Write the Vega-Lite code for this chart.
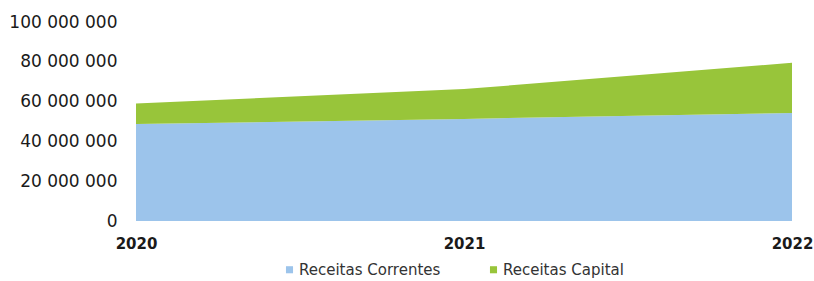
{
  "$schema": "https://vega.github.io/schema/vega-lite/v6.json",
  "width": 656,
  "height": 199,
  "autosize": {"type": "none"},
  "padding": {"left": 136, "top": 22, "right": 22, "bottom": 60},
  "background": "white",
  "config": {
    "view": {"stroke": null},
    "locale": {"number": {"decimal": ",", "thousands": " ", "grouping": [3], "currency": ["", " €"]}},
    "font": "DejaVu Sans"
  },
  "data": {
    "values": [
      {"ano": "2020", "serie": "Receitas Correntes", "ordem": 1, "valor": 48700000},
      {"ano": "2021", "serie": "Receitas Correntes", "ordem": 1, "valor": 51300000},
      {"ano": "2022", "serie": "Receitas Correntes", "ordem": 1, "valor": 54300000},
      {"ano": "2020", "serie": "Receitas Capital", "ordem": 2, "valor": 10300000},
      {"ano": "2021", "serie": "Receitas Capital", "ordem": 2, "valor": 15000000},
      {"ano": "2022", "serie": "Receitas Capital", "ordem": 2, "valor": 25200000}
    ]
  },
  "mark": {"type": "area", "opacity": 1},
  "encoding": {
    "x": {
      "field": "ano",
      "type": "ordinal",
      "scale": {"type": "point", "padding": 0},
      "axis": {
        "title": null,
        "grid": false,
        "domain": false,
        "ticks": false,
        "labelAngle": 0,
        "labelFont": "DejaVu Sans",
        "labelFontSize": 15,
        "labelFontWeight": "bold",
        "labelColor": "#1a1a1a",
        "labelPadding": 15,
        "labelOverlap": false
      }
    },
    "y": {
      "field": "valor",
      "type": "quantitative",
      "stack": "zero",
      "scale": {"domain": [0, 100000000], "nice": false},
      "axis": {
        "values": [0, 20000000, 40000000, 60000000, 80000000, 100000000],
        "format": ",d",
        "title": null,
        "grid": false,
        "domain": false,
        "ticks": false,
        "labelFont": "DejaVu Sans",
        "labelFontSize": 17,
        "labelColor": "#1a1a1a",
        "labelPadding": 19
      }
    },
    "color": {
      "field": "serie",
      "type": "nominal",
      "scale": {
        "domain": ["Receitas Correntes", "Receitas Capital"],
        "range": ["#9cc4eb", "#98c53a"]
      },
      "legend": {
        "title": null,
        "orient": "none",
        "direction": "horizontal",
        "legendX": 146,
        "legendY": 240,
        "symbolType": "square",
        "symbolSize": 50,
        "labelFont": "DejaVu Sans",
        "labelFontSize": 15,
        "labelColor": "#333333",
        "labelOffset": 2,
        "columnPadding": 45
      }
    },
    "order": {"field": "ordem", "type": "quantitative"}
  }
}
